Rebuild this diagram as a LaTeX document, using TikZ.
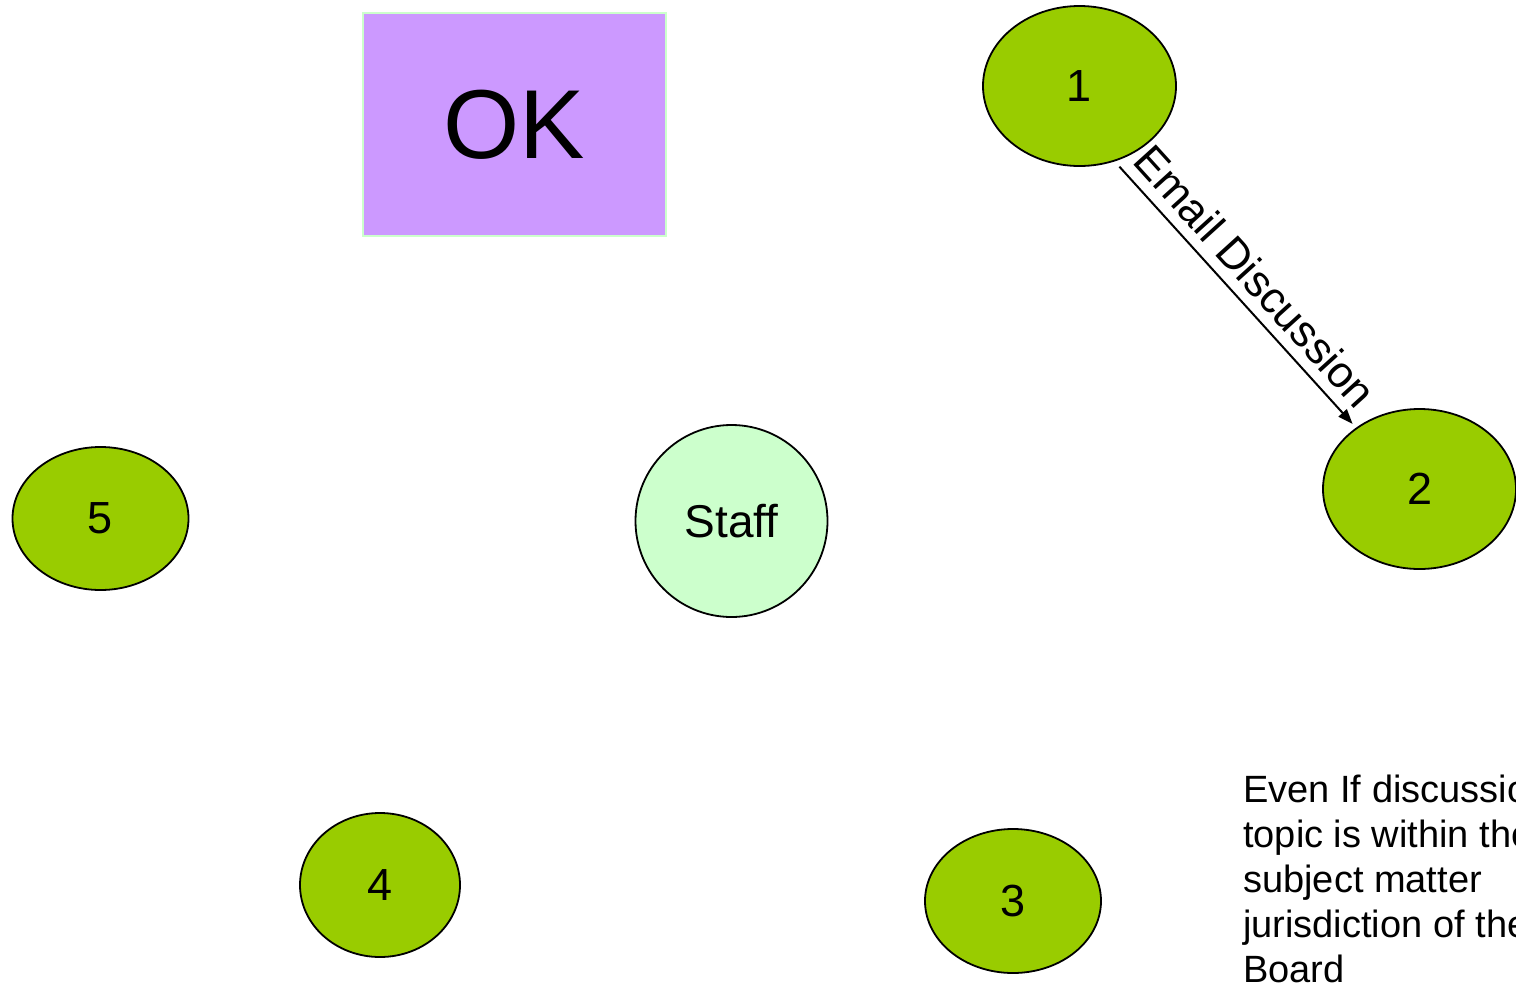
\documentclass[tikz,border=0pt]{standalone}
\usepackage{fontspec}
\setmainfont{Liberation Sans}
\usetikzlibrary{shapes.geometric,arrows.meta}
\definecolor{leaf}{HTML}{99CC00}
\definecolor{mint}{HTML}{CCFFCC}
\definecolor{lilac}{HTML}{CC99FF}
\begin{document}
\begin{tikzpicture}[x=1pt,y=-1pt,
  member/.style={ellipse,draw=black,line width=1.8pt,fill=leaf,inner sep=0pt,font=\fontsize{45}{50}\selectfont},
  staffnode/.style={circle,draw=black,line width=1.8pt,fill=mint,inner sep=0pt,minimum size=192pt,font=\fontsize{46}{50}\selectfont},
  okbox/.style={rectangle,draw=mint,line width=1.5pt,fill=lilac,inner sep=0pt,minimum width=303pt,minimum height=223pt,font=\fontsize{98}{110}\selectfont},
  flow/.style={-{Triangle[length=15pt,width=11pt]},line width=2pt},
  note/.style={anchor=north west,inner sep=0pt,align=left,font=\fontsize{38}{45}\selectfont}]
\useasboundingbox (0,0) rectangle (1516,983);
\node[okbox] (ok) at (514.5,124.5) {OK};
\node[member,minimum width=193pt,minimum height=160pt] (n1) at (1079.5,86) {1};
\node[member,minimum width=193pt,minimum height=160pt] (n2) at (1419.5,489) {2};
\node[member,minimum width=176pt,minimum height=144pt] (n3) at (1013,901) {3};
\node[member,minimum width=160pt,minimum height=144pt] (n4) at (380,885) {4};
\node[member,minimum width=176pt,minimum height=143pt] (n5) at (100.5,518.5) {5};
\node[staffnode] (staff) at (731.5,521) {Staff};
\draw[flow,shorten <=7pt,shorten >=5pt] (n1.-65) -- node[sloped,above,pos=0.5,inner sep=10pt,font=\fontsize{44}{50}\selectfont] (lbl) {Email Discussion} (n2.136.4);
\node[note] (txt) at (1243,775) {Even If discussion\\topic is within the\\subject matter\\jurisdiction of the\\Board};
\end{tikzpicture}
\end{document}
